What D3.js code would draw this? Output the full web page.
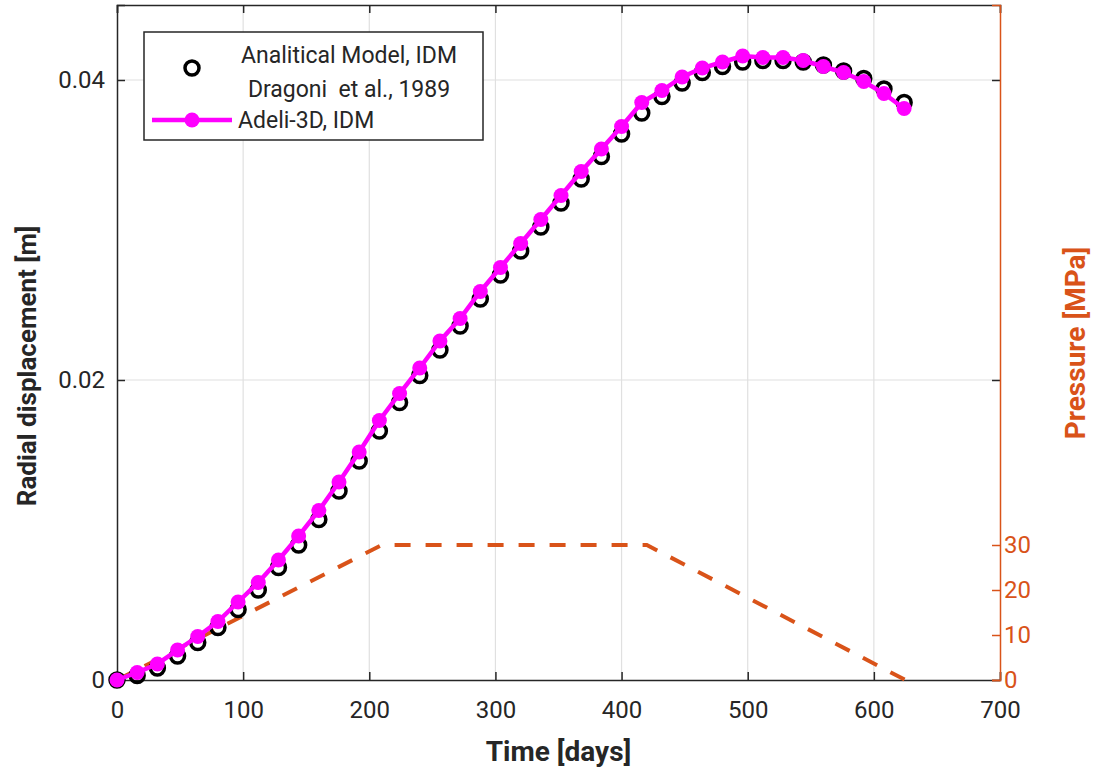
<!DOCTYPE html>
<html>
<head>
<meta charset="utf-8">
<script src="https://cdn.jsdelivr.net/npm/d3@7/dist/d3.min.js"></script>
<style>
body{margin:0;background:#fff;}
text{font-family:Roboto,"Noto Sans",sans-serif;}
</style>
</head>
<body>
<svg id="chart" width="1101" height="773"></svg>
<script>
// ---- data ----
const times = [0,16,32,48,64,80,96,112,128,144,160,176,192,208,224,240,256,272,288,304,320,336,352,368,384,400,416,432,448,464,480,496,512,528,544,560,576,592,608,624];
const adeli = [0,0.0005,0.00107,0.0020,0.0029,0.0039,0.0052,0.0065,0.0080,0.0096,0.0113,0.0132,0.0152,0.0173,0.0191,0.0208,0.0226,0.0241,0.0259,0.0275,0.0291,0.0307,0.0323,0.0339,0.0354,0.0369,0.0385,0.0393,0.0402,0.0408,0.0412,0.0416,0.0415,0.0415,0.0413,0.0409,0.0405,0.0399,0.0391,0.0381];
const analytic = [0,0.0003,0.0008,0.0016,0.0025,0.0035,0.0047,0.0060,0.0075,0.0090,0.0107,0.0126,0.0146,0.0166,0.0185,0.0203,0.0220,0.0236,0.0254,0.0270,0.0286,0.0302,0.0318,0.0334,0.0349,0.0364,0.0378,0.0389,0.0398,0.0405,0.0409,0.0412,0.0413,0.0413,0.0412,0.0410,0.0406,0.0401,0.0394,0.0385];
const pressTimes = [0,210,420,625];
const pressure = [0,30,30,0];
const xTicks = [0,100,200,300,400,500,600,700];
const yTicks = [0,0.02,0.04];
const pTicks = [0,10,20,30];
const legendLabels = [["Analitical Model, IDM","Dragoni  et al., 1989"],["Adeli-3D, IDM"]];

// ---- layout ----
const L=117, R=1000, T=5, B=680;
const dark="#262626", orange="#D95319", magenta="#FF00FF", grid="#e0e0e0";
const svg=d3.select("#chart");
const x=d3.scaleLinear().domain([0,700]).range([L,R]);
const y=d3.scaleLinear().domain([0,0.045]).range([B,T]);
const yp=d3.scaleLinear().domain([0,150]).range([B,T]);

// grid
svg.append("g").selectAll("line").data(xTicks.slice(1,-1)).join("line")
  .attr("x1",d=>x(d)).attr("x2",d=>x(d)).attr("y1",T).attr("y2",B)
  .attr("stroke",grid).attr("stroke-width",1.2);
svg.append("g").selectAll("line").data(yTicks.slice(1)).join("line")
  .attr("y1",d=>y(d)).attr("y2",d=>y(d)).attr("x1",L).attr("x2",R)
  .attr("stroke",grid).attr("stroke-width",1.2);

// axes
const fs="24px";
const gx=svg.append("g").attr("transform",`translate(0,${B})`)
  .call(d3.axisBottom(x).tickValues(xTicks).tickSize(-8).tickPadding(21).tickFormat(d3.format("d")));
const gxt=svg.append("g").attr("transform",`translate(0,${T})`)
  .call(d3.axisTop(x).tickValues(xTicks).tickSize(-8).tickFormat(""));
const gy=svg.append("g").attr("transform",`translate(${L},0)`)
  .call(d3.axisLeft(y).tickValues(yTicks).tickSize(-8).tickPadding(12).tickFormat(d=>d===0?"0":d3.format(".2f")(d)));
const gyr=svg.append("g").attr("transform",`translate(${R},0)`)
  .call(d3.axisRight(y).tickValues(yTicks).tickSize(-8).tickFormat(""));
const gp=svg.append("g").attr("transform",`translate(${R},0)`)
  .call(d3.axisRight(yp).tickValues(pTicks).tickSize(-8).tickPadding(4).tickFormat(d3.format("d")));
[gx,gxt,gy,gyr].forEach(g=>{
  g.select(".domain").attr("stroke",dark).attr("stroke-width",1.5);
  g.selectAll(".tick line").attr("stroke",dark).attr("stroke-width",1.5);
  g.selectAll("text").attr("fill",dark).style("font-size",fs).style("font-family","Roboto");
});
gyr.select(".domain").remove();
gp.select(".domain").attr("stroke",orange).attr("stroke-width",1.5);
gp.selectAll(".tick line").attr("stroke",orange).attr("stroke-width",1.5);
gp.selectAll("text").attr("fill",orange).style("font-size",fs).style("font-family","Roboto");

// pressure dashed
svg.append("path").datum(pressTimes.map((t,i)=>[t,pressure[i]]))
  .attr("d",d3.line().x(d=>x(d[0])).y(d=>yp(d[1])))
  .attr("fill","none").attr("stroke",orange).attr("stroke-width",4)
  .attr("stroke-dasharray","16,15");

// analytic circles
svg.append("g").selectAll("circle").data(times.map((t,i)=>[t,analytic[i]])).join("circle")
  .attr("cx",d=>x(d[0])).attr("cy",d=>y(d[1])).attr("r",7)
  .attr("fill","none").attr("stroke","#000").attr("stroke-width",3.5);

// adeli line + markers
const adeliPts=times.map((t,i)=>[t,adeli[i]]);
svg.append("path").datum(adeliPts)
  .attr("d",d3.line().x(d=>x(d[0])).y(d=>y(d[1])))
  .attr("fill","none").attr("stroke",magenta).attr("stroke-width",4.5);
svg.append("g").selectAll("circle").data(adeliPts).join("circle")
  .attr("cx",d=>x(d[0])).attr("cy",d=>y(d[1])).attr("r",7.5).attr("fill",magenta);

// axis labels
svg.append("text").attr("x",(L+R)/2).attr("y",761).attr("text-anchor","middle")
  .attr("fill",dark).style("font-size","28px").style("font-weight","bold").text("Time [days]");
svg.append("text").attr("transform",`translate(36,366) rotate(-90)`).attr("text-anchor","middle")
  .attr("fill",dark).style("font-size","26px").style("font-weight","bold").text("Radial displacement [m]");
svg.append("text").attr("transform",`translate(1085,343) rotate(-90)`).attr("text-anchor","middle")
  .attr("fill",orange).style("font-size","28px").style("font-weight","bold").text("Pressure [MPa]");

// legend
const lg=svg.append("g");
lg.append("rect").attr("x",144).attr("y",32).attr("width",339).attr("height",108)
  .attr("fill","#fff").attr("stroke",dark).attr("stroke-width",1.5);
lg.append("circle").attr("cx",192).attr("cy",68).attr("r",7).attr("fill","none").attr("stroke","#000").attr("stroke-width",3.5);
lg.append("text").attr("x",349).attr("y",63).attr("text-anchor","middle").attr("fill",dark).style("font-size","23px").style("white-space","pre").text(legendLabels[0][0]);
lg.append("text").attr("x",349).attr("y",97).attr("text-anchor","middle").attr("fill",dark).style("font-size","23px").style("white-space","pre").text(legendLabels[0][1]);
lg.append("line").attr("x1",152).attr("x2",232).attr("y1",120).attr("y2",120).attr("stroke",magenta).attr("stroke-width",4.5);
lg.append("circle").attr("cx",192).attr("cy",120).attr("r",7.5).attr("fill",magenta);
lg.append("text").attr("x",238).attr("y",128).attr("fill",dark).style("font-size","23px").text(legendLabels[1][0]);
</script>
</body>
</html>
